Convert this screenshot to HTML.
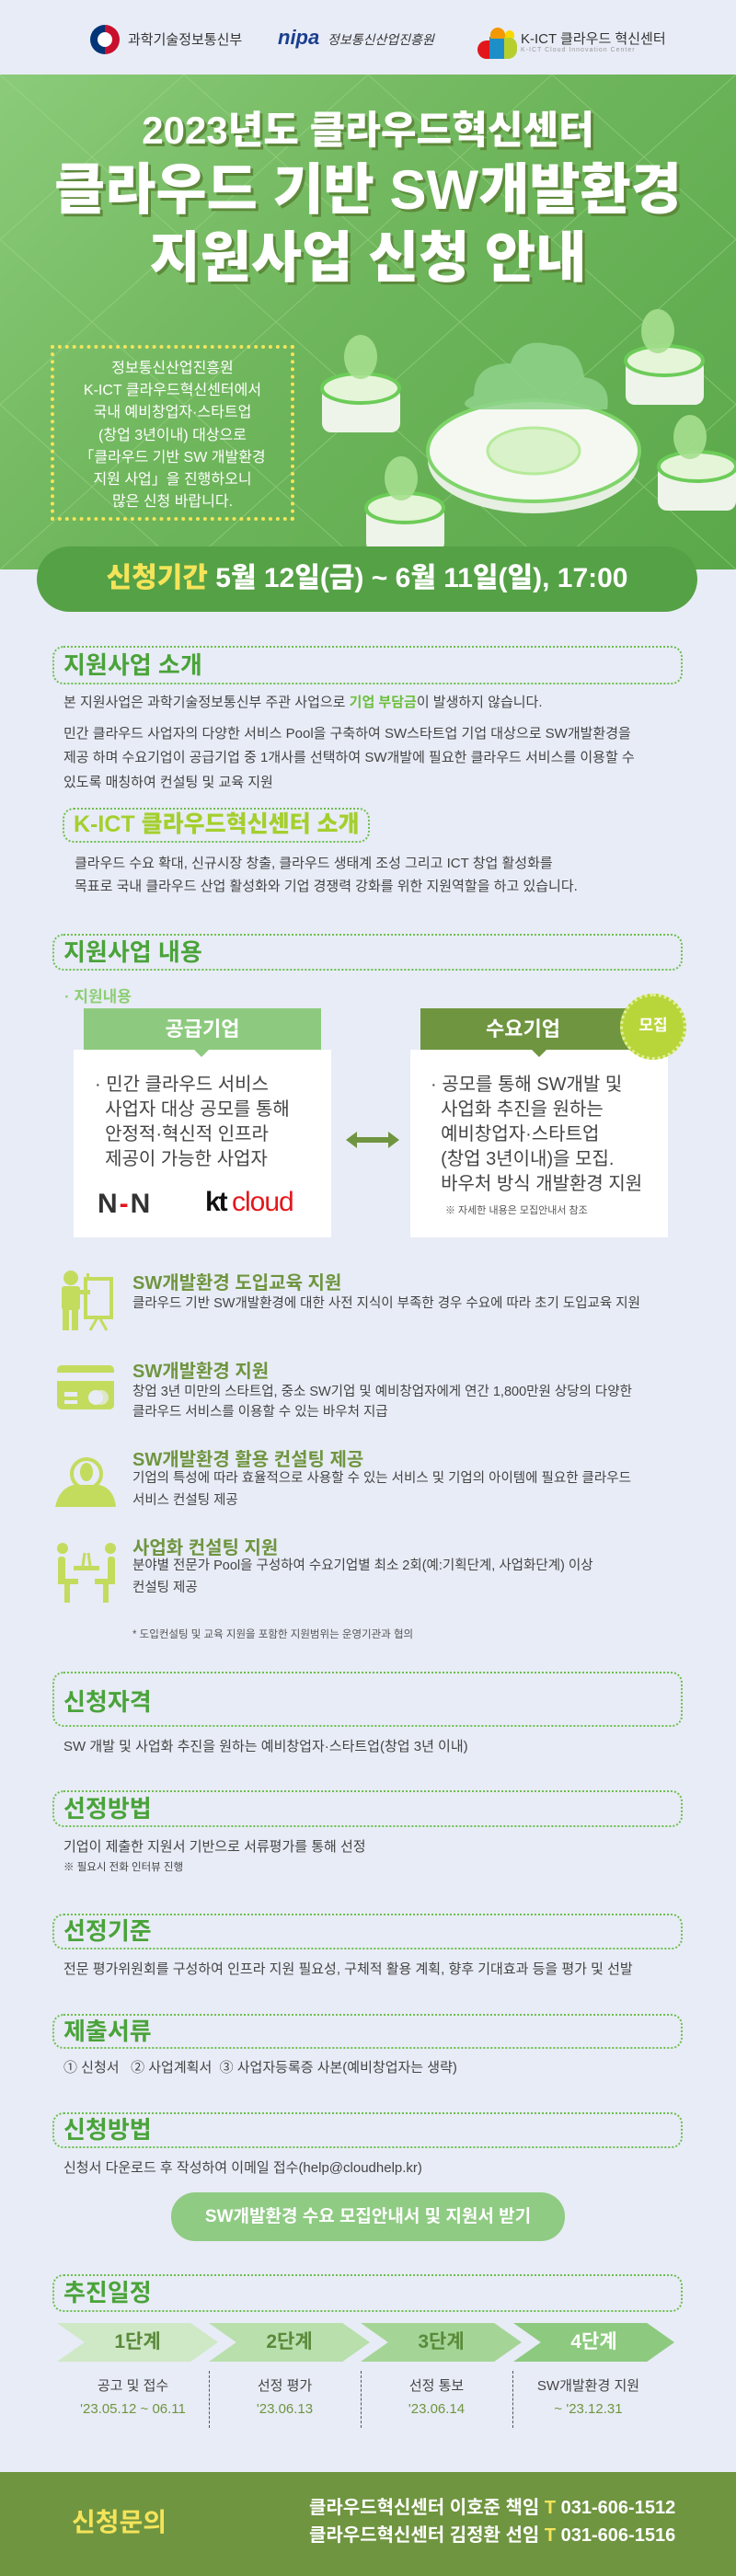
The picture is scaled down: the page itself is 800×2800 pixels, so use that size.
<!DOCTYPE html>
<html><head><meta charset="utf-8">
<style>
*{margin:0;padding:0;box-sizing:border-box}
body{width:800px;height:2800px;position:relative;background:#e8ecf6;font-family:"Liberation Sans","Noto Sans CJK KR",sans-serif;overflow:hidden;color:#444}
.a{position:absolute;white-space:nowrap}
.hb{position:absolute;left:57px;width:685px;border:2px dotted #6cbf4f;border-radius:12px}
.ht{position:absolute;left:69px;font-size:26px;font-weight:bold;color:#4aa33a;line-height:1}
.tx{position:absolute;left:69px;font-size:15px;color:#444;white-space:nowrap;line-height:1}
.it{position:absolute;left:144px;font-size:20px;font-weight:bold;color:#6f9540;line-height:1;white-space:nowrap}
.id{position:absolute;left:144px;font-size:14.5px;color:#444;line-height:1;white-space:nowrap}
.ch{position:absolute;top:2525px;height:42px;width:175px;clip-path:polygon(0 0,83% 0,100% 50%,83% 100%,0 100%,17% 50%);text-align:center;line-height:42px;font-size:21px;font-weight:bold;color:#5a8a3a}
.st{position:absolute;width:165px;text-align:center;font-size:15px;line-height:1}
.sep{position:absolute;top:2577px;height:62px;border-left:1px dashed #555}
</style></head><body>
<!-- header logos -->
<div class="a" style="left:98px;top:27px;width:32px;height:32px;border-radius:50%;background:conic-gradient(#c8102e 0 50%,#003478 50% 100%)"></div>
<div class="a" style="left:106px;top:35px;width:16px;height:16px;border-radius:50%;background:#fff"></div>
<div class="a" style="left:139px;top:32px;font-size:15px;color:#333">과학기술정보통신부</div>
<div class="a" style="left:302px;top:28px;font-size:22px;font-weight:bold;font-style:italic;color:#1b3f8f">nipa</div>
<div class="a" style="left:356px;top:33px;font-size:14px;color:#333;font-style:italic">정보통신산업진흥원</div>
<div class="a" style="left:519px;top:44px;width:14px;height:20px;background:#e2171c;border-radius:10px 0 0 10px"></div>
<div class="a" style="left:532px;top:40px;width:16px;height:24px;background:#1e8ec8"></div>
<div class="a" style="left:533px;top:30px;width:16px;height:12px;background:#f39800;border-radius:8px 8px 0 0"></div>
<div class="a" style="left:548px;top:40px;width:14px;height:24px;background:#b6cf2e;border-radius:0 10px 10px 0"></div>
<div class="a" style="left:549px;top:33px;width:10px;height:8px;background:#f9d700;border-radius:5px 5px 0 0"></div>
<div class="a" style="left:566px;top:31px;font-size:15px;color:#333">K-ICT 클라우드 혁신센터</div>
<div class="a" style="left:566px;top:51px;font-size:7px;color:#999;letter-spacing:1px">K-ICT Cloud Innovation Center</div>

<!-- hero -->
<div class="a" style="left:0;top:81px;width:800px;height:538px;background:linear-gradient(135deg,#8bcb7a 0%,#6fb65c 45%,#5aa84a 100%);overflow:hidden">
<svg width="800" height="538" style="position:absolute;left:0;top:0" stroke="#a6da90" stroke-width="1" opacity="0.5">
<g>
<line x1="-200" y1="0" x2="400" y2="538"/><line x1="0" y1="0" x2="600" y2="538"/><line x1="200" y1="0" x2="800" y2="538"/><line x1="400" y1="0" x2="1000" y2="538"/><line x1="600" y1="0" x2="1200" y2="538"/><line x1="-400" y1="0" x2="200" y2="538"/>
<line x1="1000" y1="0" x2="400" y2="538"/><line x1="800" y1="0" x2="200" y2="538"/><line x1="600" y1="0" x2="0" y2="538"/><line x1="400" y1="0" x2="-200" y2="538"/><line x1="1200" y1="0" x2="600" y2="538"/><line x1="200" y1="0" x2="-400" y2="538"/>
</g></svg>
</div>
<div class="a" style="left:0;top:121px;width:800px;text-align:center;font-size:42px;font-weight:900;color:#fff;text-shadow:3px 3px 0 #5e8a3c;line-height:1">2023년도 클라우드혁신센터</div>
<div class="a" style="left:0;top:177px;width:800px;text-align:center;font-size:60px;font-weight:900;color:#fff;text-shadow:3px 3px 0 #5e8a3c;line-height:1">클라우드 기반 SW개발환경</div>
<div class="a" style="left:0;top:251px;width:800px;text-align:center;font-size:60px;font-weight:900;color:#fff;text-shadow:3px 3px 0 #5e8a3c;line-height:1">지원사업 신청 안내</div>
<div class="a" style="left:55px;top:375px;width:265px;height:191px;border:4px dotted #f4e45a"></div>
<div class="a" style="left:55px;top:389px;width:265px;text-align:center;font-size:16px;color:#fff;line-height:24.2px;white-space:normal">정보통신산업진흥원<br>K-ICT 클라우드혁신센터에서<br>국내 예비창업자·스타트업<br>(창업 3년이내) 대상으로<br>「클라우드 기반 SW 개발환경<br>지원 사업」을 진행하오니<br>많은 신청 바랍니다.</div>
<!-- illustration -->
<svg class="a" style="left:340px;top:330px" width="460" height="280">
<ellipse cx="240" cy="170" rx="115" ry="58" fill="#e6efe2"/><ellipse cx="240" cy="160" rx="115" ry="55" fill="#f4f8f1" stroke="#7fd46a" stroke-width="4"/>
<ellipse cx="240" cy="160" rx="50" ry="25" fill="#d9f2c9" stroke="#b6ea9a" stroke-width="3"/>
<path d="M175 100 q0-35 40-35 q10-30 45-20 q30 0 35 35 q30 5 25 35 l-145 0 q-20-5 0-15z" fill="#8ed28a" opacity="0.85"/>
<g fill="#eef4ea"><rect x="10" y="90" width="85" height="50" rx="10"/><rect x="340" y="60" width="85" height="50" rx="10"/><rect x="58" y="220" width="85" height="50" rx="10"/><rect x="375" y="175" width="85" height="50" rx="10"/></g>
<g fill="#e5f5d8" stroke="#6ccc58" stroke-width="4"><ellipse cx="52" cy="92" rx="42" ry="16"/><ellipse cx="382" cy="62" rx="42" ry="16"/><ellipse cx="100" cy="222" rx="42" ry="16"/><ellipse cx="418" cy="177" rx="42" ry="16"/></g>
<g fill="#a5df8f" opacity="0.9"><ellipse cx="52" cy="58" rx="18" ry="24"/><ellipse cx="375" cy="30" rx="18" ry="24"/><ellipse cx="96" cy="190" rx="18" ry="24"/><ellipse cx="410" cy="145" rx="18" ry="24"/></g>
</svg>
<!-- period pill -->
<div class="a" style="left:40px;top:594px;width:718px;height:71px;border-radius:36px;background:#55a146"></div>
<div class="a" style="left:40px;top:612px;width:718px;text-align:center;font-size:30px;font-weight:900;color:#fff;line-height:34px"><span style="color:#f4e45a">신청기간</span> 5월 12일(금) ~ 6월 11일(일), 17:00</div>

<!-- 지원사업 소개 -->
<div class="hb" style="top:702px;height:42px"></div>
<div class="ht" style="top:710px">지원사업 소개</div>
<div class="tx" style="top:756px">본 지원사업은 과학기술정보통신부 주관 사업으로 <b style="color:#6cbf3f">기업 부담금</b>이 발생하지 않습니다.</div>
<div class="tx" style="top:790px">민간 클라우드 사업자의 다양한 서비스 Pool을 구축하여 SW스타트업 기업 대상으로 SW개발환경을</div>
<div class="tx" style="top:816px">제공 하며 수요기업이 공급기업 중 1개사를 선택하여 SW개발에 필요한 클라우드 서비스를 이용할 수</div>
<div class="tx" style="top:843px">있도록 매칭하여 컨설팅 및 교육 지원</div>
<div class="a" style="left:68px;top:878px;width:334px;height:38px;border:2px dotted #6cbf4f;border-radius:12px"></div>
<div class="a" style="left:80px;top:883px;font-size:25px;font-weight:900;color:#a4cf2e;line-height:1.1">K-ICT 클라우드혁신센터 소개</div>
<div class="tx" style="left:81px;top:931px">클라우드 수요 확대, 신규시장 창출, 클라우드 생태계 조성 그리고 ICT 창업 활성화를</div>
<div class="tx" style="left:81px;top:956px">목표로 국내 클라우드 산업 활성화와 기업 경쟁력 강화를 위한 지원역할을 하고 있습니다.</div>

<!-- 지원사업 내용 -->
<div class="hb" style="top:1015px;height:40px"></div>
<div class="ht" style="top:1022px">지원사업 내용</div>
<div class="a" style="left:70px;top:1069px;font-size:17px;font-weight:bold;color:#8ccf74">· 지원내용</div>
<div class="a" style="left:91px;top:1096px;width:258px;height:46px;background:#8dca7f;text-align:center;line-height:46px;color:#fff;font-size:22px;font-weight:bold">공급기업</div>
<div class="a" style="left:80px;top:1141px;width:280px;height:204px;background:#fff"></div>
<div class="a" style="left:211px;top:1141px;border:8px solid transparent;border-top-color:#8dca7f"></div>
<div class="a" style="left:103px;top:1166px;font-size:20px;color:#444;line-height:27px">· 민간 클라우드 서비스<br>&nbsp;&nbsp;사업자 대상 공모를 통해<br>&nbsp;&nbsp;안정적·혁신적 인프라<br>&nbsp;&nbsp;제공이 가능한 사업자</div>
<div class="a" style="left:106px;top:1292px;font-size:30px;font-weight:bold;color:#333;letter-spacing:2px">N<span style="color:#e2171c">-</span>N</div>
<div class="a" style="left:223px;top:1290px;font-size:30px;font-weight:900;color:#111;letter-spacing:-2px">kt <span style="color:#e2171c;font-weight:normal;letter-spacing:-1px">cloud</span></div>
<svg class="a" style="left:374px;top:1228px" width="62" height="22"><path d="M2 11 L14 2 L14 8 L48 8 L48 2 L60 11 L48 20 L48 14 L14 14 L14 20Z" fill="#6f9540"/></svg>
<div class="a" style="left:457px;top:1096px;width:243px;height:46px;background:#6f9540;text-align:center;line-height:46px;color:#fff;font-size:22px;font-weight:bold;padding-right:20px">수요기업</div>
<div class="a" style="left:446px;top:1141px;width:280px;height:204px;background:#fff"></div>
<div class="a" style="left:578px;top:1141px;border:8px solid transparent;border-top-color:#6f9540"></div>
<div class="a" style="left:674px;top:1080px;width:72px;height:72px;border-radius:50%;background:#b8d63a;border:3px dotted #e2ef9a;text-align:center;line-height:64px;color:#fff;font-size:17px;font-weight:bold">모집</div>
<div class="a" style="left:468px;top:1166px;font-size:20px;color:#444;line-height:27px">· 공모를 통해 SW개발 및<br>&nbsp;&nbsp;사업화 추진을 원하는<br>&nbsp;&nbsp;예비창업자·스타트업<br>&nbsp;&nbsp;(창업 3년이내)을 모집.<br>&nbsp;&nbsp;바우처 방식 개발환경 지원</div>
<div class="a" style="left:484px;top:1307px;font-size:11px;color:#555">※ 자세한 내용은 모집안내서 참조</div>

<!-- items -->
<svg class="a" style="left:60px;top:1380px" width="70" height="400" fill="#c3dc5e">
<circle cx="17" cy="9" r="8"/><rect x="7" y="18" width="20" height="26" rx="3"/><rect x="8" y="40" width="7" height="26"/><rect x="18" y="40" width="7" height="26"/><rect x="34" y="4" width="3" height="6"/><rect x="33" y="10" width="28" height="42" fill="none" stroke="#c3dc5e" stroke-width="4"/><path d="M46 52 L38 66 M48 52 L56 66" stroke="#c3dc5e" stroke-width="3"/><rect x="24" y="22" width="14" height="5"/>
<rect x="2" y="104" width="62" height="48" rx="5"/><rect x="2" y="112" width="62" height="9" fill="#e8ecf6"/><rect x="10" y="133" width="14" height="5" fill="#e8ecf6"/><rect x="10" y="142" width="14" height="4" fill="#e8ecf6"/><circle cx="44" cy="139" r="8" fill="#e8ecf6"/><circle cx="50" cy="139" r="8" fill="#e8ecf6" opacity=".7"/>
<circle cx="34" cy="222" r="16" fill="none" stroke="#c3dc5e" stroke-width="4"/><ellipse cx="34" cy="220" rx="7" ry="10"/><path d="M0 258 Q4 238 20 234 L48 234 Q64 238 66 258Z"/>
<circle cx="8" cy="303" r="6"/><circle cx="60" cy="303" r="6"/><rect x="3" y="312" width="8" height="30" rx="3"/><rect x="57" y="312" width="8" height="30" rx="3"/><rect x="3" y="336" width="22" height="6"/><rect x="43" y="336" width="22" height="6"/><rect x="20" y="322" width="28" height="5"/><rect x="10" y="340" width="6" height="22"/><rect x="52" y="340" width="6" height="22"/><path d="M30 322 L32 308 M38 322 L36 308" stroke="#c3dc5e" stroke-width="3"/>
</svg>
<div class="it" style="top:1385px">SW개발환경 도입교육 지원</div>
<div class="id" style="top:1410px">클라우드 기반 SW개발환경에 대한 사전 지식이 부족한 경우 수요에 따라 초기 도입교육 지원</div>
<div class="it" style="top:1481px">SW개발환경 지원</div>
<div class="id" style="top:1506px">창업 3년 미만의 스타트업, 중소 SW기업 및 예비창업자에게 연간 1,800만원 상당의 다양한</div>
<div class="id" style="top:1528px">클라우드 서비스를 이용할 수 있는 바우처 지급</div>
<div class="it" style="top:1577px">SW개발환경 활용 컨설팅 제공</div>
<div class="id" style="top:1600px">기업의 특성에 따라 효율적으로 사용할 수 있는 서비스 및 기업의 아이템에 필요한 클라우드</div>
<div class="id" style="top:1624px">서비스 컨설팅 제공</div>
<div class="it" style="top:1673px">사업화 컨설팅 지원</div>
<div class="id" style="top:1695px">분야별 전문가 Pool을 구성하여 수요기업별 최소 2회(예:기획단계, 사업화단계) 이상</div>
<div class="id" style="top:1719px">컨설팅 제공</div>
<div class="a" style="left:144px;top:1768px;font-size:11.5px;color:#555">* 도입컨설팅 및 교육 지원을 포함한 지원범위는 운영기관과 협의</div>

<!-- sections -->
<div class="hb" style="top:1817px;height:60px"></div>
<div class="ht" style="top:1837px">신청자격</div>
<div class="tx" style="top:1891px">SW 개발 및 사업화 추진을 원하는 예비창업자·스타트업(창업 3년 이내)</div>
<div class="hb" style="top:1946px;height:40px"></div>
<div class="ht" style="top:1953px">선정방법</div>
<div class="tx" style="top:2000px">기업이 제출한 지원서 기반으로 서류평가를 통해 선정</div>
<div class="tx" style="top:2025px;font-size:11.5px">※ 필요시 전화 인터뷰 진행</div>
<div class="hb" style="top:2080px;height:39px"></div>
<div class="ht" style="top:2086px">선정기준</div>
<div class="tx" style="top:2133px">전문 평가위원회를 구성하여 인프라 지원 필요성, 구체적 활용 계획, 향후 기대효과 등을 평가 및 선발</div>
<div class="hb" style="top:2189px;height:38px"></div>
<div class="ht" style="top:2195px">제출서류</div>
<div class="tx" style="top:2240px">① 신청서 &nbsp; ② 사업계획서 &nbsp;③ 사업자등록증 사본(예비창업자는 생략)</div>
<div class="hb" style="top:2296px;height:39px"></div>
<div class="ht" style="top:2302px">신청방법</div>
<div class="tx" style="top:2349px">신청서 다운로드 후 작성하여 이메일 접수(help@cloudhelp.kr)</div>
<div class="a" style="left:186px;top:2383px;width:428px;height:53px;border-radius:26px;background:#8fcb83;text-align:center;line-height:53px;color:#fff;font-size:19px;font-weight:bold">SW개발환경 수요 모집안내서 및 지원서 받기</div>

<div class="hb" style="top:2472px;height:41px"></div>
<div class="ht" style="top:2479px">추진일정</div>
<div class="ch" style="left:62px;background:#cfe8c6">1단계</div>
<div class="ch" style="left:227px;background:#b8dfac">2단계</div>
<div class="ch" style="left:392px;background:#a5d596">3단계</div>
<div class="ch" style="left:558px;background:#8dca7f;color:#fff">4단계</div>
<div class="sep" style="left:227px"></div><div class="sep" style="left:392px"></div><div class="sep" style="left:557px"></div>
<div class="st" style="left:62px;top:2586px">공고 및 접수</div>
<div class="st" style="left:62px;top:2611px;color:#6f9540">'23.05.12 ~ 06.11</div>
<div class="st" style="left:227px;top:2586px">선정 평가</div>
<div class="st" style="left:227px;top:2611px;color:#6f9540">'23.06.13</div>
<div class="st" style="left:392px;top:2586px">선정 통보</div>
<div class="st" style="left:392px;top:2611px;color:#6f9540">'23.06.14</div>
<div class="st" style="left:557px;top:2586px">SW개발환경 지원</div>
<div class="st" style="left:557px;top:2611px;color:#6f9540">~ '23.12.31</div>

<!-- footer -->
<div class="a" style="left:0;top:2687px;width:800px;height:113px;background:#6f9540"></div>
<div class="a" style="left:78px;top:2728px;font-size:28px;font-weight:bold;color:#f4e45a;line-height:1">신청문의</div>
<div class="a" style="left:336px;top:2716px;font-size:20px;font-weight:bold;color:#fff;line-height:1">클라우드혁신센터 이호준 책임 <span style="color:#f4e45a">T</span> 031-606-1512</div>
<div class="a" style="left:336px;top:2746px;font-size:20px;font-weight:bold;color:#fff;line-height:1">클라우드혁신센터 김정환 선임 <span style="color:#f4e45a">T</span> 031-606-1516</div>
</body></html>
